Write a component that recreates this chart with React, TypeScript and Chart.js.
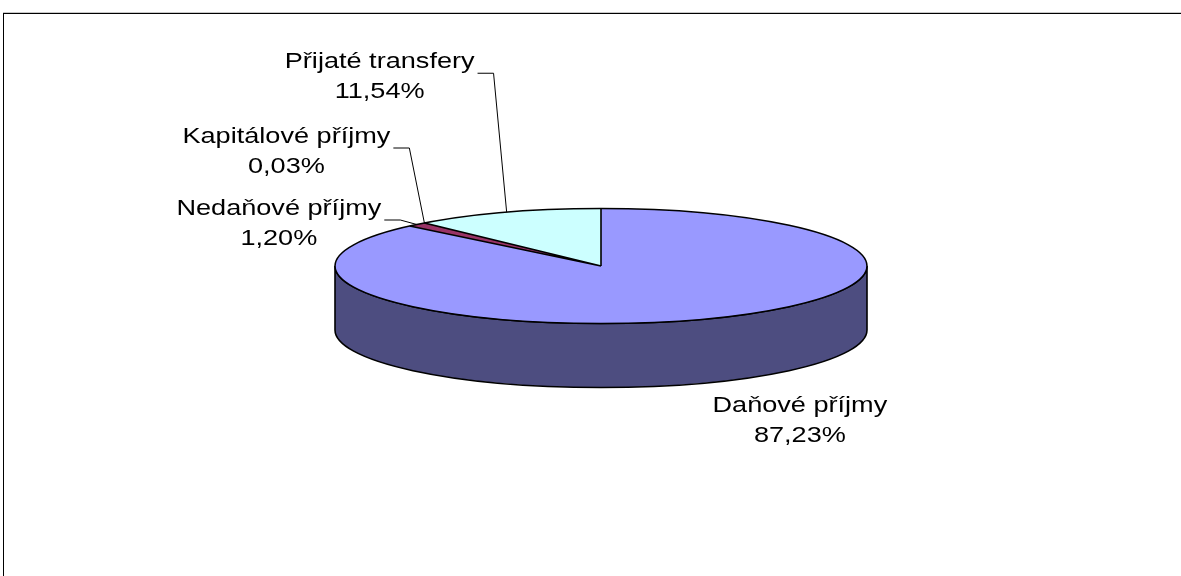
import React, { useEffect, useRef } from "react";
import { Chart, registerables } from "chart.js";

Chart.register(...registerables);

// ---- data ----
const categories = ["Daňové příjmy", "Nedaňové příjmy", "Kapitálové příjmy", "Přijaté transfery"];
const shares = [87.23, 1.2, 0.03, 11.54];

// ---- styles ----
const topColors = ["#9999FF", "#993366", "#FFFFCC", "#CCFFFF"];
const sideColors = ["#4D4D80", "#4D1A33", "#80806A", "#6A8080"];
const W = 1181;
const H = 576;
const CX = 601;
const CY = 266;
const R = 266;
const RY = 57.5;
const DEPTH = 64;
const FONT = '22px "Liberation Sans", Arial, sans-serif';
const TEXT_SX = 1.232;
const LINE_GAP = 30;
// label centre / first baseline offsets relative to the slice's mid point on the rim
const labelOffsets = [
  [95, 93],
  [-138, -9.5],
  [-138, -80],
  [-127, -144],
];
const showLeader = [false, true, true, true];

const fmt = (v: number) => v.toFixed(2).replace(".", ",") + "%";

const pie3d = {
  id: "pie3d",
  beforeDraw(chart: any) {
    const ctx = chart.ctx;
    ctx.save();
    ctx.fillStyle = "#FFFFFF";
    ctx.fillRect(0, 0, W, H);
    ctx.fillStyle = "#C8C8C8";
    ctx.fillRect(3, 12, W - 3, 1);
    ctx.fillStyle = "#000000";
    ctx.fillRect(3, 13, W - 3, 1);
    ctx.fillRect(3, 13, 1, H - 13);
    ctx.restore();
  },
  beforeDatasetsDraw(chart: any) {
    const ctx = chart.ctx;
    const arcs = chart.getDatasetMeta(0).data;
    if (!arcs.length) return;
    const p0 = arcs[0].getProps(["x", "y", "outerRadius"], true);
    const k = RY / p0.outerRadius;
    // side walls of the front half
    arcs.forEach((arc: any, i: number) => {
      const { x, y, startAngle, endAngle, outerRadius } = arc.getProps(
        ["x", "y", "startAngle", "endAngle", "outerRadius"],
        true
      );
      const ry = outerRadius * k;
      for (let off = -2 * Math.PI; off <= 2 * Math.PI + 1e-9; off += 2 * Math.PI) {
        const a0 = Math.max(startAngle + off, 0);
        const a1 = Math.min(endAngle + off, Math.PI);
        if (a1 > a0) {
          ctx.save();
          ctx.beginPath();
          ctx.ellipse(x, y, outerRadius, ry, 0, a0, a1);
          ctx.ellipse(x, y + DEPTH, outerRadius, ry, 0, a1, a0, true);
          ctx.closePath();
          ctx.fillStyle = sideColors[i];
          ctx.fill();
          ctx.strokeStyle = "#000";
          ctx.lineWidth = 1.6;
          ctx.stroke();
          ctx.restore();
        }
      }
    });
    ctx.save();
    ctx.translate(p0.x, p0.y);
    ctx.scale(1, k);
    ctx.translate(-p0.x, -p0.y);
  },
  afterDatasetsDraw(chart: any) {
    const ctx = chart.ctx;
    const arcs = chart.getDatasetMeta(0).data;
    if (!arcs.length) return;
    ctx.restore();
    const p0 = arcs[0].getProps(["x", "y", "outerRadius"], true);
    const k = RY / p0.outerRadius;
    const { x, y, outerRadius } = p0;
    const ry = outerRadius * k;
    // top outline
    ctx.save();
    ctx.strokeStyle = "#000";
    ctx.lineWidth = 1.6;
    ctx.beginPath();
    ctx.ellipse(x, y, outerRadius, ry, 0, 0, Math.PI * 2);
    ctx.stroke();
    ctx.beginPath();
    arcs.forEach((arc: any) => {
      const { startAngle } = arc.getProps(["startAngle"], true);
      ctx.moveTo(x, y);
      ctx.lineTo(x + outerRadius * Math.cos(startAngle), y + ry * Math.sin(startAngle));
    });
    ctx.stroke();
    ctx.restore();

    // labels
    ctx.save();
    ctx.font = FONT;
    ctx.fillStyle = "#000";
    ctx.textAlign = "center";
    ctx.textBaseline = "alphabetic";
    arcs.forEach((arc: any, i: number) => {
      const { startAngle, endAngle } = arc.getProps(["startAngle", "endAngle"], true);
      const mid = (startAngle + endAngle) / 2;
      const ax = x + outerRadius * Math.cos(mid);
      const ay = y + ry * Math.sin(mid);
      const lx = ax + labelOffsets[i][0];
      const ly = ay + labelOffsets[i][1];
      const lines = [categories[i], fmt(shares[i])];
      lines.forEach((t, j) => {
        ctx.save();
        ctx.translate(lx, ly + j * LINE_GAP);
        ctx.scale(TEXT_SX, 1);
        ctx.fillText(t, 0, 0);
        ctx.restore();
      });
      if (showLeader[i]) {
        const w = ctx.measureText(categories[i]).width * TEXT_SX;
        const sx = lx + w / 2 + 3;
        const sy = ly + 5;
        ctx.beginPath();
        ctx.strokeStyle = "#000";
        ctx.lineWidth = 1;
        ctx.moveTo(sx, sy);
        ctx.lineTo(sx + 16, sy);
        ctx.lineTo(ax, ay);
        ctx.stroke();
      }
    });
    ctx.restore();
  },
};

export default function App() {
  const ref = useRef<HTMLCanvasElement>(null);
  useEffect(() => {
    document.body.style.margin = "0";
    const padRight = 80;
    const padLeft = 2 * CX - W + padRight;
    const padBottom = 44;
    const padTop = 2 * CY - H + padBottom;
    const chart = new Chart(ref.current as HTMLCanvasElement, {
      type: "pie",
      data: {
        labels: categories,
        datasets: [
          {
            data: shares,
            backgroundColor: topColors,
            borderWidth: 0,
            hoverOffset: 0,
          } as any,
        ],
      },
      options: {
        animation: false,
        responsive: false,
        devicePixelRatio: 1,
        events: [],
        radius: R,
        layout: { padding: { left: padLeft, right: padRight, top: padTop, bottom: padBottom } },
        plugins: { legend: { display: false }, tooltip: { enabled: false } },
      } as any,
      plugins: [pie3d],
    });
    return () => chart.destroy();
  }, []);
  return (
    <div style={{ width: W, height: H }}>
      <canvas ref={ref} width={W} height={H} style={{ display: "block" }} />
    </div>
  );
}
